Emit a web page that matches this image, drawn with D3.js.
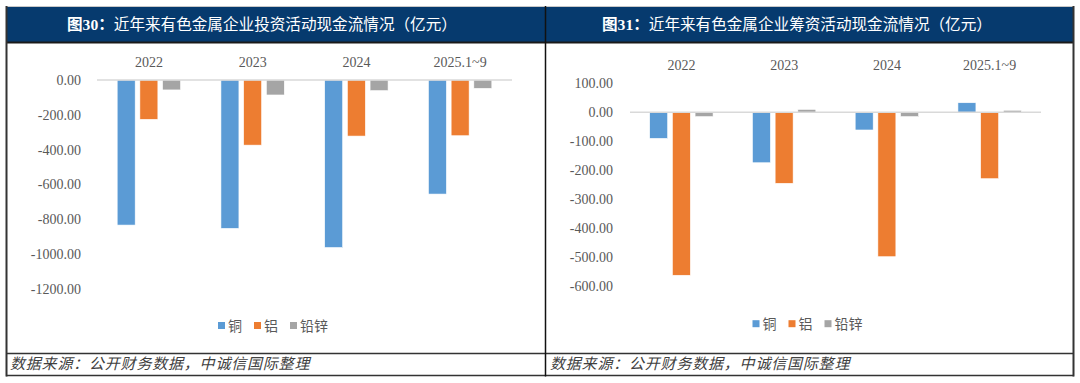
<!DOCTYPE html>
<html>
<head>
<meta charset="utf-8">
<script src="https://cdn.jsdelivr.net/npm/d3@7"></script>
<style>
  html, body { margin: 0; padding: 0; background: #ffffff; }
  svg { display: block; }
</style>
</head>
<body>
<svg id="chart" width="1080" height="383"></svg>
<script>
// ---------- data ----------
const categories = ["2022", "2023", "2024", "2025.1~9"];
const seriesNames = ["铜", "铝", "铅锌"];
const seriesColors = ["#5b9bd5", "#ed7d31", "#a5a5a5"];

// 图30: investing cash flow (亿元)
const investCopper   = [-833, -852, -962, -655];
const investAluminum = [-226, -374, -322, -320];
const investLeadZinc = [-57, -86, -61, -48];
const investTicks    = [0, -200, -400, -600, -800, -1000, -1200];

// 图31: financing cash flow (亿元)
const financeCopper   = [-90, -174, -61, 33];
const financeAluminum = [-562, -245, -498, -229];
const financeLeadZinc = [-15, 10, -15, 7];
const financeTicks    = [100, 0, -100, -200, -300, -400, -500, -600];

const titles = ["近年来有色金属企业投资活动现金流情况（亿元）", "近年来有色金属企业筹资活动现金流情况（亿元）"];
const titleNums = ["图30：", "图31："];
const sourceText = "数据来源：公开财务数据，中诚信国际整理";

// ---------- frame ----------
const svg = d3.select("#chart");
const NAVY = "#063a6e";
const FRAME = "#333333";
const numFont = "'Liberation Serif', 'Times New Roman', serif";
const cjkFont = "'Liberation Serif', 'Noto Sans CJK SC', serif";

svg.append("rect").attr("x", 6).attr("y", 6).attr("width", 1067).attr("height", 36).attr("fill", NAVY);
svg.append("line").attr("x1", 6).attr("x2", 1074).attr("y1", 6.5).attr("y2", 6.5).attr("stroke", "#c8c8c8").attr("stroke-width", 1);
svg.append("line").attr("x1", 6).attr("x2", 1074).attr("y1", 42.5).attr("y2", 42.5).attr("stroke", "#1a1a1a").attr("stroke-width", 2);
svg.append("line").attr("x1", 6).attr("x2", 1074).attr("y1", 353.5).attr("y2", 353.5).attr("stroke", FRAME).attr("stroke-width", 1.5);
svg.append("line").attr("x1", 6).attr("x2", 1074).attr("y1", 375.5).attr("y2", 375.5).attr("stroke", FRAME).attr("stroke-width", 1.5);
[6.5, 545.5, 1073.5].forEach(x => {
  svg.append("line").attr("x1", x).attr("x2", x).attr("y1", 6).attr("y2", 376.5)
    .attr("stroke", x === 545.5 ? "#111" : FRAME).attr("stroke-width", x === 545.5 ? 1.5 : 2);
});

// ---------- panel builder ----------
function drawPanel(cfg) {
  const g = svg.append("g");

  // title
  const t = g.append("text").attr("x", cfg.titleX).attr("y", 30)
    .attr("fill", "#ffffff").attr("font-family", cjkFont).attr("font-size", 15.6);
  t.append("tspan").attr("font-weight", "bold").text(cfg.titleNum);
  t.append("tspan").text(cfg.title);

  const y = d3.scaleLinear().domain(cfg.domain).range(cfg.yRange);
  const x0 = d3.scaleBand().domain(categories).range(cfg.xRange).padding(0);
  const x1 = d3.scaleBand().domain(seriesNames).range([-31.7, 31.7]).paddingInner(0.207).paddingOuter(0);

  // y axis labels
  const ya = g.append("g").attr("transform", `translate(${cfg.xRange[0]},0)`)
    .call(d3.axisLeft(y).tickValues(cfg.ticks).tickSize(0).tickPadding(cfg.tickPad).tickFormat(d => d.toFixed(2)));
  ya.select(".domain").remove();
  ya.selectAll("text").attr("fill", "#595959").attr("font-family", numFont).attr("font-size", 14);

  // category axis on top
  const xa = g.append("g").attr("transform", `translate(0,${cfg.catY})`)
    .call(d3.axisTop(x0).tickSize(0).tickPadding(0));
  xa.select(".domain").remove();
  xa.selectAll("text").attr("fill", "#595959").attr("font-family", numFont).attr("font-size", 14);

  // bars
  const rows = categories.map((c, i) => ({ cat: c, vals: cfg.series.map((s, j) => ({ name: seriesNames[j], v: s[i], color: seriesColors[j] })) }));
  const grp = g.selectAll(".grp").data(rows).join("g")
    .attr("transform", d => `translate(${x0(d.cat) + x0.bandwidth() / 2},0)`);
  grp.selectAll("rect").data(d => d.vals).join("rect")
    .attr("x", d => x1(d.name))
    .attr("width", x1.bandwidth())
    .attr("y", d => y(Math.max(0, d.v)))
    .attr("height", d => Math.abs(y(d.v) - y(0)))
    .attr("fill", d => d.color)
    .attr("stroke", "#ffffff").attr("stroke-width", 0.6);

  // zero line
  g.append("line").attr("x1", cfg.xRange[0]).attr("x2", cfg.xRange[1])
    .attr("y1", y(0)).attr("y2", y(0)).attr("stroke", "#d9d9d9").attr("stroke-width", 1.5);

  // legend
  const leg = g.append("g").attr("transform", `translate(${cfg.legendX},${cfg.legendY})`);
  let lx = 0;
  seriesNames.forEach((name, j) => {
    leg.append("rect").attr("x", lx).attr("y", -3.5).attr("width", 7).attr("height", 7).attr("fill", seriesColors[j]);
    const tx = leg.append("text").attr("x", lx + 10).attr("y", 5).attr("fill", "#595959")
      .attr("font-family", cjkFont).attr("font-size", 14).text(name);
    lx += 10 + tx.node().getComputedTextLength() + 12;
  });

  // source
  g.append("text").attr("x", cfg.srcX).attr("y", 369).attr("fill", "#404040")
    .attr("font-family", "'Noto Sans CJK SC', sans-serif").attr("font-style", "italic")
    .attr("font-size", 15).attr("letter-spacing", 0.8).text(sourceText);
}

drawPanel({
  title: titles[0], titleNum: titleNums[0], titleX: 67,
  domain: [0, -1200], yRange: [80, 289], xRange: [97, 512], ticks: investTicks, tickPad: 16,
  catY: 67, series: [investCopper, investAluminum, investLeadZinc],
  legendX: 218, legendY: 325.5, srcX: 10
});
drawPanel({
  title: titles[1], titleNum: titleNums[1], titleX: 602,
  domain: [100, -600], yRange: [83.3, 286.3], xRange: [630, 1041], ticks: financeTicks, tickPad: 17,
  catY: 70, series: [financeCopper, financeAluminum, financeLeadZinc],
  legendX: 752.5, legendY: 323.7, srcX: 550
});
</script>
</body>
</html>
